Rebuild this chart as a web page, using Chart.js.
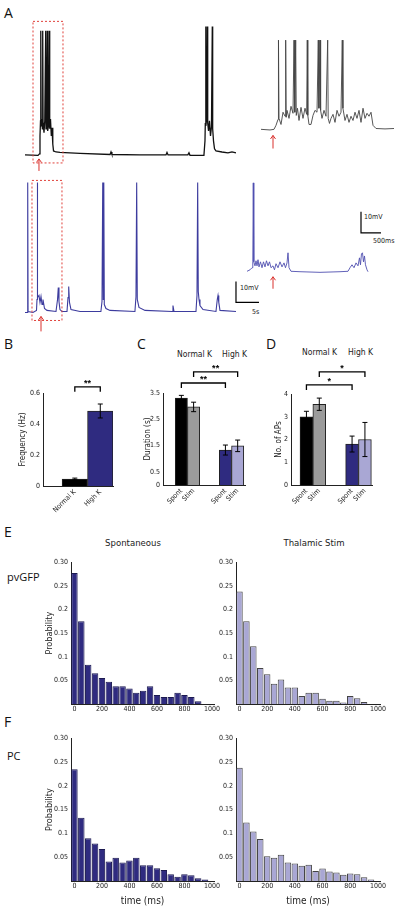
<!DOCTYPE html>
<html>
<head>
<meta charset="utf-8">
<script src="https://cdn.jsdelivr.net/npm/chart.js@4.4.0/dist/chart.umd.min.js"></script>
<style>
  body { margin: 0; background: #fff; }
  #fig { position: relative; width: 400px; height: 911px; overflow: hidden; color: #222;
         font-family: 'Liberation Sans Narrow', 'DejaVu Sans Condensed', sans-serif; }
  #fig canvas { position: absolute; }
  .t { position: absolute; white-space: nowrap; line-height: 1; }
  .pl { font-family: 'Open Sans', sans-serif; font-size: 14px; color: #111; }
  .lab { font-family: 'Open Sans', sans-serif; font-size: 11px; color: #111; }
  .ttl { font-size: 9.5px; transform: translateX(-50%); }
  .grp { font-size: 8.5px; }
  .sb { font-size: 7px; }
</style>
</head>
<body>
<div id="fig">
  <div class="t pl" style="left:4px;top:6px">A</div>
  <div class="t pl" style="left:4px;top:337px">B</div>
  <div class="t pl" style="left:137px;top:337px">C</div>
  <div class="t pl" style="left:266px;top:337px">D</div>
  <div class="t pl" style="left:4px;top:525px">E</div>
  <div class="t pl" style="left:4px;top:715px">F</div>
  <div class="t lab" style="left:7px;top:571px">pvGFP</div>
  <div class="t lab" style="left:7px;top:750px">PC</div>
  <div class="t ttl" style="left:133px;top:538px">Spontaneous</div>
  <div class="t ttl" style="left:314px;top:538px">Thalamic Stim</div>
  <div class="t grp" style="left:177px;top:350px">Normal K</div>
  <div class="t grp" style="left:222px;top:350px">High K</div>
  <div class="t grp" style="left:302px;top:348px">Normal K</div>
  <div class="t grp" style="left:348px;top:348px">High K</div>
  <div class="t sb" style="left:240px;top:285px">10mV</div>
  <div class="t sb" style="left:252px;top:309px">5s</div>
  <div class="t sb" style="left:364px;top:214px">10mV</div>
  <div class="t sb" style="left:373px;top:238px">500ms</div>
</div>
<script>
  // ---- data ----
  // A: membrane potential traces (time, mV)
  const topT = [0,2.83,3.15,3.26,3.37,3.43,3.52,3.65,3.78,3.85,3.93,4.13,4.3,4.5,4.57,4.7,4.85,4.93,5.11,5.28,5.37,5.54,5.72,5.87,6.04,6.2,6.74,7.6,11.96,18.5,18.7,18.9,25,30.65,30.87,31.1,35.4,35.65,35.87,38.9,39.13,39.2,39.28,39.35,39.5,39.63,39.72,39.9,40.1,40.33,40.54,40.72,40.8,40.98,41.2,41.52,42.83,44.13,45,45.87];
  const topV = [-65,-65.2,-64.5,-56,-48.8,-6,-51.2,-47.9,-52.6,-6,-49.8,-54.5,-48.8,-6,-52.6,-49.8,-6,-53.6,-51.2,-6,-52.6,-47.9,-56,-52.1,-59.8,-63.1,-63.6,-63.8,-64.3,-64.8,-63.6,-64.8,-65,-65,-63.8,-65,-65,-64,-65.2,-65.2,-58.3,-49.8,-4,-51.2,-47.9,-4,-49.8,-53.6,-48.8,-56,-51.7,-4,-52.6,-58.3,-62.1,-63.1,-63.6,-64,-63.6,-64];

  const insTopT = [0,225,325,375,425,437,450,500,550,600,617,630,650,700,750,800,825,845,867,882,912,950,1000,1050,1100,1142,1157,1170,1200,1250,1300,1350,1400,1432,1448,1475,1490,1525,1575,1625,1667,1680,1712,1750,1800,1850,1900,1950,2000,2032,2048,2100,2150,2200,2250,2300,2350,2400,2450,2500,2550,2600,2650,2700,2750,2800,2875,3100,3325];
  const insTopV = [-65.2,-65.5,-65.2,-63.3,-60.5,-22.9,-60,-62.9,-57.1,-59,-22.9,-59.5,-56.2,-60,-54.3,-57.6,-22.9,-57.1,-22.9,-58.6,-55.2,-61,-54.8,-60,-55.2,-58.1,-22.9,-58.6,-62.9,-62.9,-58.6,-56.2,-57.1,-22.9,-55.2,-22.9,-56.2,-60,-56.2,-59,-22.9,-60,-62.4,-60,-58.1,-61.9,-56.2,-59,-57.1,-22.9,-55.2,-61,-58.1,-61.9,-59,-61,-57.1,-60,-56.2,-61.9,-55.2,-60,-57.6,-59,-57.1,-63.3,-64.8,-65,-64.8];

  const botT = [0,0.5,0.59,0.67,1.74,2.5,2.61,2.67,2.76,3.04,3.26,3.48,3.7,3.91,4.24,4.78,6.74,7.07,7.24,7.39,7.6,8.04,9.13,9.35,9.5,9.67,10,11.96,16.5,16.74,16.9,17.02,17.13,17.24,17.6,18.48,23.9,24.13,24.28,24.41,24.78,26.1,31.96,32.17,32.39,37.17,37.39,37.54,37.67,37.83,38.04,38.7,41.52,41.8,41.96,42.13,42.39,45.87];
  const botV = [-65,-65,-3.1,-64.5,-65,-64,-58.8,-3.1,-57.9,-56.9,-60.2,-57.4,-61.2,-58.8,-63.1,-64,-64.5,-58.8,-53.1,-59.8,-63.6,-64.5,-64.5,-57.9,-52.6,-60.2,-63.6,-64.5,-64.5,-59.8,-3.1,-58.8,-3.1,-61.2,-63.1,-64,-64.5,-57.4,-3.1,-58.8,-62.6,-64,-64.5,-61.7,-64.5,-64.5,-56.9,-3.1,-55,-58.8,-61.7,-63.6,-64.5,-58.8,-56.9,-60.2,-64,-64.5];

  const insBotT = [0,75,125,145,157,170,200,225,250,275,300,337,375,412,450,487,525,562,600,650,687,725,775,825,875,925,962,1000,1025,1050,1100,1325,1825,2325,2525,2575,2625,2675,2725,2775,2812,2837,2862,2887,2912,2937,2962,3000,3025];
  const insBotV = [-64.9,-64.2,-63.2,-60.4,-22.8,-60.4,-62.3,-59.9,-62.3,-59.4,-62.8,-60.4,-63.2,-60.4,-62.8,-59.9,-62.3,-60.4,-63.2,-62.3,-64.2,-61.3,-63.2,-60.4,-62.8,-60.9,-63.2,-60.9,-56.1,-63.2,-64.9,-65.1,-65.4,-65.1,-64.9,-63.2,-61.8,-63.2,-60.9,-62.3,-58.5,-61.8,-56.6,-56.1,-60.4,-57.6,-61.8,-64.2,-65.1];

  // B
  const bLabels = ['Normal K', 'High K'];
  const bFreq = [0.045, 0.484];
  const bErr = [0.006, 0.045];
  // C
  const cLabels = ['Spont', 'Stim', 'Spont', 'Stim'];
  const cDur = [3.31, 2.97, 1.33, 1.49];
  const cErr = [0.1, 0.18, 0.19, 0.22];
  // D
  const dLabels = ['Spont', 'Stim', 'Spont', 'Stim'];
  const dAPs = [3.0, 3.55, 1.8, 2.0];
  const dErr = [0.24, 0.27, 0.35, 0.75];

  // E / F: inter-event histograms
  const bins = [0,50,100,150,200,250,300,350,400,450,500,550,600,650,700,750,800,850,900,950];
  const pvSpont = [0.277,0.175,0.083,0.065,0.055,0.047,0.0375,0.0375,0.033,0.024,0.028,0.0375,0.019,0.015,0.015,0.024,0.019,0.015,0.006,0];
  const pvStim = [0.238,0.175,0.122,0.076,0.063,0.043,0.052,0.035,0.035,0.017,0.024,0.024,0.011,0.007,0.007,0.003,0.017,0.012,0.004,0];
  const pcSpont = [0.235,0.133,0.09,0.079,0.067,0.041,0.049,0.039,0.043,0.049,0.033,0.033,0.027,0.023,0.014,0.009,0.014,0.012,0.006,0.003];
  const pcStim = [0.238,0.123,0.104,0.088,0.052,0.049,0.055,0.039,0.037,0.032,0.034,0.021,0.026,0.02,0.018,0.013,0.016,0.014,0.008,0.003];
  const histTicks = [0, 200, 400, 600, 800, 1000];
  const probTicks = [0, 0.05, 0.1, 0.15, 0.2, 0.25, 0.3];
  const probLabels = ['', '0.05', '0.1', '0.15', '0.2', '0.25', '0.30'];

  // ---- styling ----
  const BLACK = '#000', GRAY = '#9b9b9b', NAVY = '#2f2b80', LILAC = '#a9a7d4';

  Chart.defaults.font.family = "'Liberation Sans Narrow', 'DejaVu Sans Condensed', sans-serif";
  Chart.defaults.font.size = 7;
  Chart.defaults.color = '#222';
  Chart.defaults.animation = false;
  Chart.defaults.plugins.legend.display = false;
  Chart.defaults.plugins.tooltip.enabled = false;

  // error bars, significance brackets, dashed boxes, arrows, scale bars
  const marks = {
    id: 'marks',
    afterDatasetsDraw(chart, args, o) {
      const ctx = chart.ctx, sx = chart.scales.x, sy = chart.scales.y;
      const X = v => sx.getPixelForValue(v), Y = v => sy.getPixelForValue(v);
      ctx.save();
      ctx.strokeStyle = '#000';
      ctx.lineWidth = 1;
      (o.err || []).forEach((e, i) => {
        const p = chart.data.datasets[0].data[i];
        const px = X(p.x), a = Y(p.y + e), b = Y(p.y - e);
        ctx.beginPath();
        ctx.moveTo(px, a); ctx.lineTo(px, b);
        ctx.moveTo(px - 2.5, a); ctx.lineTo(px + 2.5, a);
        ctx.moveTo(px - 2.5, b); ctx.lineTo(px + 2.5, b);
        ctx.stroke();
      });
      (o.brackets || []).forEach(([a, b, v, txt]) => {
        const y = Y(v);
        ctx.lineWidth = 1.3;
        ctx.beginPath();
        ctx.moveTo(X(a), y + 5); ctx.lineTo(X(a), y); ctx.lineTo(X(b), y); ctx.lineTo(X(b), y + 5);
        ctx.stroke();
        ctx.fillStyle = '#000';
        ctx.font = "bold 9px 'Liberation Sans', sans-serif";
        ctx.textAlign = 'center';
        ctx.fillText(txt, (X(a) + X(b)) / 2, y - 1);
      });
      (o.boxes || []).forEach(([x0, x1, y0, y1]) => {
        ctx.strokeStyle = '#e0403a';
        ctx.lineWidth = 1;
        ctx.setLineDash([2, 2]);
        ctx.strokeRect(X(x0), Y(y1), X(x1) - X(x0), Y(y0) - Y(y1));
        ctx.setLineDash([]);
      });
      (o.arrows || []).forEach(([x, y0, y1]) => {
        const px = X(x), a = Y(y0), b = Y(y1);
        ctx.strokeStyle = '#d9302c';
        ctx.lineWidth = 1;
        ctx.beginPath();
        ctx.moveTo(px, a); ctx.lineTo(px, b);
        ctx.moveTo(px - 2.5, b + 3.5); ctx.lineTo(px, b); ctx.lineTo(px + 2.5, b + 3.5);
        ctx.stroke();
      });
      if (o.scaleBar) {
        const [x, y, dx, dy] = o.scaleBar;
        ctx.strokeStyle = '#000';
        ctx.lineWidth = 1.2;
        ctx.beginPath();
        ctx.moveTo(X(x), Y(y + dy)); ctx.lineTo(X(x), Y(y)); ctx.lineTo(X(x + dx), Y(y));
        ctx.stroke();
      }
      ctx.restore();
    }
  };
  Chart.register(marks);

  const fig = document.getElementById('fig');
  function addCanvas(left, top, w, h) {
    const c = document.createElement('canvas');
    c.width = Math.round(w);
    c.height = Math.round(h);
    c.style.left = left + 'px';
    c.style.top = top + 'px';
    fig.appendChild(c);
    return c;
  }

  // ---- A: traces ----
  function trace(box, t, v, xr, yr, color, lw, m) {
    const c = addCanvas(box[0], box[1], box[2], box[3]);
    return new Chart(c, {
      type: 'line',
      data: { datasets: [{ data: t.map((x, i) => ({ x, y: v[i] })), borderColor: color, borderWidth: lw, pointRadius: 0, tension: 0 }] },
      options: {
        responsive: false, events: [], layout: { padding: 0 },
        scales: {
          x: { type: 'linear', display: false, min: xr[0], max: xr[1] },
          y: { display: false, min: yr[0], max: yr[1] }
        },
        plugins: { marks: m }
      }
    });
  }

  trace([25, 18, 212, 158], topT, topV, [0, 46.09], [-75, 0], '#111', 1.3, {
    boxes: [[1.74, 8.26, -68.8, -1.6]],
    arrows: [[3.04, -72.6, -66.9]]
  });
  trace([261, 34, 136, 116], insTopT, insTopV, [0, 3400], [-75, -20], '#444', 0.9, {
    arrows: [[300, -74.3, -68.1]]
  });
  trace([25, 176, 235, 168], botT, botV, [0, 51.09], [-80, 0], '#3d3c9e', 1.1, {
    boxes: [[1.52, 8.04, -68.8, -2.1]],
    arrows: [[3.48, -74, -66.9]],
    scaleBar: [45.87, -60.2, 5, 10]
  });
  trace([247, 135, 150, 168], insBotT, insBotV, [0, 3750], [-80, 0], '#4f4fb0', 0.9, {
    arrows: [[650, -73.2, -67.5]],
    scaleBar: [2850, -46.6, 500, 10]
  });

  // ---- bar panels ----
  function panel(a, cfg) {
    const c = addCanvas(a.l - a.yw, a.t - a.pt, a.r - a.l + a.yw + a.pr, a.b - a.t + a.pt + a.xh);
    cfg.options.responsive = false;
    cfg.options.events = [];
    cfg.options.layout = { padding: { top: a.pt, right: a.pr, left: 0, bottom: 0 } };
    cfg.options.scales.x.afterFit = s => { s.height = a.xh; };
    cfg.options.scales.y.afterFit = s => { s.width = a.yw; };
    return new Chart(c, cfg);
  }

  const axisLine = { display: true, color: '#222', width: 1 };
  const noGrid = { display: false, drawTicks: false };

  function barPanel(a, slots, xmax, vals, labels, colors, ymax, yticks, ytitle, err, brackets) {
    return panel(a, {
      type: 'bar',
      data: {
        datasets: [{
          data: vals.map((v, i) => ({ x: slots[i], y: v })),
          backgroundColor: colors, borderColor: '#222', borderWidth: 1,
          barPercentage: 1, categoryPercentage: 1
        }]
      },
      options: {
        scales: {
          x: {
            type: 'linear', min: 0, max: xmax, offset: false,
            grid: { ...noGrid, offset: false }, border: axisLine,
            afterBuildTicks: s => { s.ticks = slots.map(v => ({ value: v })); },
            ticks: { autoSkip: false, minRotation: 45, maxRotation: 45, padding: 2,
                     callback: (v, i) => labels[i] }
          },
          y: {
            min: 0, max: ymax, grid: noGrid, border: axisLine,
            afterBuildTicks: s => { s.ticks = yticks.map(v => ({ value: v })); },
            ticks: { padding: 3, callback: v => String(v) },
            title: { display: true, text: ytitle, font: { size: 8 }, padding: 0, color: '#222' }
          }
        },
        plugins: { marks: { err, brackets } }
      }
    });
  }

  barPanel({ l: 43, r: 113, t: 393, b: 486, yw: 25, xh: 35, pt: 20, pr: 6 },
    [1.25, 2.25], 2.75, bFreq, bLabels, [BLACK, NAVY], 0.6, [0, 0.2, 0.4, 0.6], 'Frequency (Hz)', bErr,
    [[1.25, 2.25, 0.64, '**']]);

  barPanel({ l: 163, r: 245.4, t: 393, b: 485, yw: 20, xh: 35, pt: 32, pr: 6 },
    [1.5, 2.5, 5.1, 6.1], 6.7, cDur, cLabels, [BLACK, GRAY, NAVY, LILAC], 3.5, [0, 0.5, 1.5, 2.5, 3.5], 'Duration (s)', cErr,
    [[1.5, 5.1, 3.88, '**'], [2.5, 6.1, 4.3, '**']]);

  barPanel({ l: 291, r: 371.6, t: 394, b: 485, yw: 17, xh: 35, pt: 32, pr: 6 },
    [1.2, 2.2, 4.75, 5.75], 6.3, dAPs, dLabels, [BLACK, GRAY, NAVY, LILAC], 4, [0, 1, 2, 3, 4], 'No. of APs', dErr,
    [[1.2, 4.75, 4.4, '*'], [2.2, 5.75, 4.97, '*']]);

  // ---- E / F histograms ----
  function hist(a, vals, fill, edge, ytitle, xtitle) {
    return panel(a, {
      type: 'bar',
      data: {
        datasets: [{
          data: vals.map((v, i) => ({ x: bins[i], y: v })),
          backgroundColor: fill, borderColor: edge, borderWidth: 1,
          barPercentage: 0.94, categoryPercentage: 1
        }]
      },
      options: {
        scales: {
          x: {
            type: 'linear', min: -25, max: 1015, offset: false,
            grid: { ...noGrid, offset: false }, border: axisLine,
            afterBuildTicks: s => { s.ticks = histTicks.map(v => ({ value: v })); },
            ticks: { autoSkip: false, maxRotation: 0, padding: 1, callback: v => String(v) },
            title: { display: !!xtitle, text: xtitle || '', font: { size: 10 }, padding: 0, color: '#222' }
          },
          y: {
            min: 0, max: 0.3, grid: noGrid, border: axisLine,
            afterBuildTicks: s => { s.ticks = probTicks.map(v => ({ value: v })); },
            ticks: { padding: 3, callback: (v, i) => probLabels[i] },
            title: { display: !!ytitle, text: ytitle || '', font: { size: 9 }, padding: 0, color: '#222' }
          }
        }
      }
    });
  }

  hist({ l: 70.5, r: 213, t: 561, b: 703.5, yw: 27, xh: 18, pt: 6, pr: 8 }, pvSpont, NAVY, '#1c1a50', 'Probability');
  hist({ l: 235.5, r: 379, t: 561, b: 703.5, yw: 25, xh: 18, pt: 6, pr: 8 }, pvStim, LILAC, '#444', '');
  hist({ l: 70.5, r: 213, t: 737, b: 881, yw: 27, xh: 26, pt: 6, pr: 8 }, pcSpont, NAVY, '#1c1a50', 'Probability', 'time (ms)');
  hist({ l: 235.5, r: 379, t: 737, b: 881, yw: 25, xh: 26, pt: 6, pr: 8 }, pcStim, LILAC, '#444', '', 'time (ms)');
</script>
</body>
</html>
